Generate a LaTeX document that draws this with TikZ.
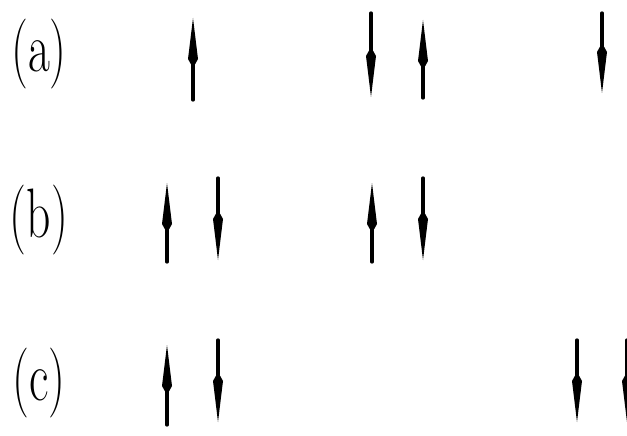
\documentclass[tikz,border=0pt]{standalone}
\usetikzlibrary{arrows.meta}

\begin{document}
\begin{tikzpicture}[x=1pt, y=-1pt, line cap=round,
    spin/.style={line width=3.3pt, -{Kite[length=50pt, width=10pt, inset=9pt]}},
    rowlabel/.style={font=\fontsize{70}{72}\selectfont, xscale=0.68, anchor=base, inner sep=0pt}]

    % Frame
    \useasboundingbox (0,0) rectangle (627,436);

    % Labels
    \node[rowlabel] (la) at (39,72)  {(a)};
    \node[rowlabel] (lb) at (39,237) {(b)};
    \node[rowlabel] (lc) at (39,400) {(c)};

    % ---- Row (a) ----
    \foreach \x/\t/\b in {193/18/100, 423/20/98}
        \draw[spin] (\x,\b) -- (\x,\t);
    \foreach \x/\t/\b in {371/13/97, 602/13/93}
        \draw[spin] (\x,\t) -- (\x,\b);

    % ---- Row (b) ----
    \foreach \x in {167, 372}
        \draw[spin] (\x,262) -- (\x,183);
    \foreach \x in {218, 423}
        \draw[spin] (\x,178) -- (\x,260);

    % ---- Row (c) ----
    \draw[spin] (167,425) -- (167,345);
    \foreach \x in {218, 577, 627}
        \draw[spin] (\x,340) -- (\x,422);
\end{tikzpicture}
\end{document}
